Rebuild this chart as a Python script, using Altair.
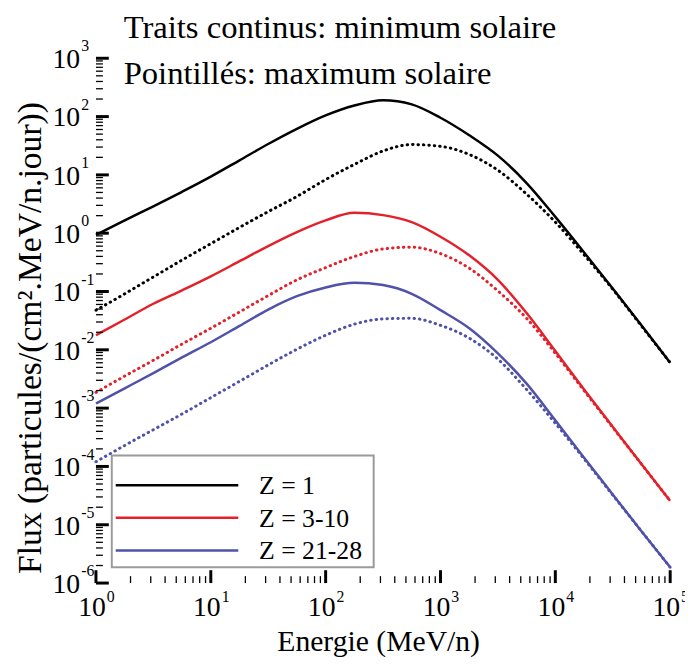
import altair as alt
import pandas as pd

# ---- data ----
energies = [1, 1.78, 3.16, 5.62, 10, 17.8, 31.6, 56.2, 100, 178, 316, 562,
            1000, 1780, 3160, 5620, 10000, 17800, 31600, 56200, 100000]

# log10 of the flux (particules/(cm2.MeV/n.jour)) at each energy
z1_min_log10 = [-0.03, 0.22, 0.46, 0.71, 0.97, 1.25, 1.53, 1.79, 2.02, 2.19, 2.28,
                2.21, 1.98, 1.68, 1.33, 0.86, 0.28, -0.33, -0.95, -1.58, -2.22]
z1_max_log10 = [-1.32, -1.04, -0.75, -0.46, -0.18, 0.10, 0.37, 0.63, 0.92, 1.18, 1.41,
                1.52, 1.49, 1.35, 1.08, 0.67, 0.19, -0.37, -0.96, -1.59, -2.22]
z3_min_log10 = [-1.75, -1.48, -1.21, -0.98, -0.74, -0.48, -0.22, 0.02, 0.22, 0.35, 0.31,
                0.19, -0.06, -0.38, -0.80, -1.37, -2.02, -2.68, -3.32, -3.96, -4.59]
z3_max_log10 = [-2.73, -2.45, -2.18, -1.90, -1.63, -1.35, -1.07, -0.80, -0.59, -0.40, -0.27,
                -0.24, -0.35, -0.60, -0.99, -1.46, -2.06, -2.70, -3.33, -3.96, -4.59]
z21_min_log10 = [-2.92, -2.66, -2.40, -2.13, -1.87, -1.59, -1.31, -1.08, -0.93, -0.85, -0.89,
                 -1.04, -1.32, -1.63, -2.06, -2.58, -3.21, -3.85, -4.48, -5.11, -5.73]
z21_max_log10 = [-3.92, -3.64, -3.37, -3.10, -2.82, -2.54, -2.26, -1.99, -1.75, -1.56, -1.47,
                 -1.46, -1.58, -1.80, -2.16, -2.68, -3.26, -3.87, -4.49, -5.11, -5.73]

series_labels = ["Z = 1", "Z = 3-10", "Z = 21-28"]
series_colors = ["#000000", "#e3212b", "#4f52a8"]
title_lines = ["Traits continus: minimum solaire", "Pointillés: maximum solaire"]
x_title = "Energie (MeV/n)"
y_title = "Flux (particules/(cm².MeV/n.jour))"

x_tick_values = [1, 10, 100, 1000, 10000, 100000]
x_tick_exps = ["0", "1", "2", "3", "4", "5"]
y_tick_values = [1e-6, 1e-5, 1e-4, 1e-3, 1e-2, 1e-1, 1, 10, 100, 1000]
y_tick_exps = ["-6", "-5", "-4", "-3", "-2", "-1", "0", "1", "2", "3"]

# ---- tables ----
series_values = {
    ("Z = 1", "minimum"): z1_min_log10,
    ("Z = 1", "maximum"): z1_max_log10,
    ("Z = 3-10", "minimum"): z3_min_log10,
    ("Z = 3-10", "maximum"): z3_max_log10,
    ("Z = 21-28", "minimum"): z21_min_log10,
    ("Z = 21-28", "maximum"): z21_max_log10,
}
rows = []
for (z, cyc), vals in series_values.items():
    for e, lv in zip(energies, vals):
        rows.append({"E": e, "F": 10 ** lv, "Z": z, "cycle": cyc})
curves = pd.DataFrame(rows)

xmaj = pd.DataFrame({"v": x_tick_values, "e": x_tick_exps})
ymaj = pd.DataFrame({"v": y_tick_values, "e": y_tick_exps})
xmin = pd.DataFrame({"v": [m * 10 ** k for k in range(0, 5) for m in range(2, 10)]})
ymin = pd.DataFrame({"v": [m * 10.0 ** k for k in range(-6, 3) for m in range(2, 10)]})
legend_df = pd.DataFrame({"Z": series_labels, "idx": list(range(len(series_labels)))})
title_df = pd.DataFrame({"t": title_lines, "idx": list(range(len(title_lines)))})
xt_df = pd.DataFrame({"t": [x_title]})
yt_df = pd.DataFrame({"t": [y_title]})

W, H = 581, 531
FONT = "Liberation Serif"
xscale = alt.Scale(type="log", domain=[1, 1e5], nice=False)
yscale = alt.Scale(type="log", domain=[1e-6, 1e3], nice=False)
cscale = alt.Scale(domain=series_labels, range=series_colors)

x_axis = alt.Axis(title=None, labels=False, ticks=False, grid=False,
                  domainWidth=3, domainColor="black")
y_axis = alt.Axis(title=None, labels=False, ticks=False, grid=False,
                  domainWidth=3, domainColor="black")

solid = alt.Chart(curves).transform_filter(alt.datum.cycle == "minimum").mark_line(
    strokeWidth=2.5, interpolate="monotone").encode(
    x=alt.X("E:Q", scale=xscale, axis=x_axis),
    y=alt.Y("F:Q", scale=yscale, axis=y_axis),
    color=alt.Color("Z:N", scale=cscale, legend=None),
    detail="cycle:N",
)
dotted = alt.Chart(curves).transform_filter(alt.datum.cycle == "maximum").mark_line(
    strokeWidth=3, strokeDash=[0.5, 5], strokeCap="round", interpolate="monotone").encode(
    x=alt.X("E:Q", scale=xscale, axis=None),
    y=alt.Y("F:Q", scale=yscale, axis=None),
    color=alt.Color("Z:N", scale=cscale, legend=None),
    detail="cycle:N",
)

# inward ticks
y_major = alt.Chart(ymaj).mark_rule(strokeWidth=3, color="black").encode(
    y=alt.Y("v:Q", scale=yscale, axis=None), x=alt.value(0), x2=alt.value(13))
y_minor = alt.Chart(ymin).mark_rule(strokeWidth=1.3, color="black").encode(
    y=alt.Y("v:Q", scale=yscale, axis=None), x=alt.value(0), x2=alt.value(7))
x_major = alt.Chart(xmaj).mark_rule(strokeWidth=3, color="black").encode(
    x=alt.X("v:Q", scale=xscale, axis=None), y=alt.value(H), y2=alt.value(H - 13))
x_minor = alt.Chart(xmin).mark_rule(strokeWidth=1.3, color="black").encode(
    x=alt.X("v:Q", scale=xscale, axis=None), y=alt.value(H), y2=alt.value(H - 7))

# tick labels 10^n
y_lab = alt.Chart(ymaj).mark_text(text="10", align="left", baseline="alphabetic", dy=10,
                                  font=FONT, fontSize=28, color="black").encode(
    y=alt.Y("v:Q", scale=yscale, axis=None), x=alt.value(-44))
y_exp = alt.Chart(ymaj).mark_text(align="left", baseline="alphabetic", dy=-7,
                                  font=FONT, fontSize=16, color="black").encode(
    y=alt.Y("v:Q", scale=yscale, axis=None), x=alt.value(-15), text="e:N")
x_lab = alt.Chart(xmaj).mark_text(text="10", align="center", baseline="alphabetic", dx=-4,
                                  font=FONT, fontSize=28, color="black").encode(
    x=alt.X("v:Q", scale=xscale, axis=None), y=alt.value(H + 33))
x_exp = alt.Chart(xmaj).mark_text(align="left", baseline="alphabetic", dx=11,
                                  font=FONT, fontSize=16, color="black").encode(
    x=alt.X("v:Q", scale=xscale, axis=None), y=alt.value(H + 19), text="e:N")

# axis titles
x_title_mark = alt.Chart(xt_df).mark_text(
    align="center", baseline="alphabetic", font=FONT, fontSize=30, color="black").encode(
    x=alt.value(286), y=alt.value(H + 69), text="t:N")
y_title_mark = alt.Chart(yt_df).mark_text(
    align="center", baseline="alphabetic", angle=270, font=FONT, fontSize=34,
    color="black").encode(
    x=alt.value(-56), y=alt.value(283), text="t:N")

# legend
legend_box = alt.Chart(pd.DataFrame({"a": [0]})).mark_rect(
    fill="white", stroke="#9a9a9a", strokeWidth=2).encode(
    x=alt.value(16), x2=alt.value(281), y=alt.value(402), y2=alt.value(515))
legend_lines = alt.Chart(legend_df).transform_calculate(
    ly="432 + 33 * datum.idx").mark_rule(strokeWidth=2.5).encode(
    x=alt.value(20), x2=alt.value(144),
    y=alt.Y("ly:Q", scale=None, axis=None),
    color=alt.Color("Z:N", scale=cscale, legend=None))
legend_text = alt.Chart(legend_df).transform_calculate(
    ly="432 + 33 * datum.idx").mark_text(
    align="left", baseline="middle", dy=1, font=FONT, fontSize=26, color="black").encode(
    x=alt.value(165), y=alt.Y("ly:Q", scale=None, axis=None), text="Z:N")

# header text
header = alt.Chart(title_df).transform_calculate(
    ty="-21 + 47 * datum.idx").mark_text(
    align="left", baseline="alphabetic", font=FONT, fontSize=33, color="black").encode(
    x=alt.value(28), y=alt.Y("ty:Q", scale=None, axis=None), text="t:N")

chart = alt.layer(
    solid, dotted, y_minor, y_major, x_minor, x_major, y_lab, y_exp, x_lab, x_exp,
    x_title_mark, y_title_mark, legend_box, legend_lines, legend_text, header
).properties(
    width=W, height=H,
    padding={"left": 89, "top": 47, "right": 15, "bottom": 75},
    autosize=alt.AutoSizeParams(type="none"),
).configure_view(stroke=None)

chart.save("out.html", embed_options={"renderer": "svg", "actions": False})
